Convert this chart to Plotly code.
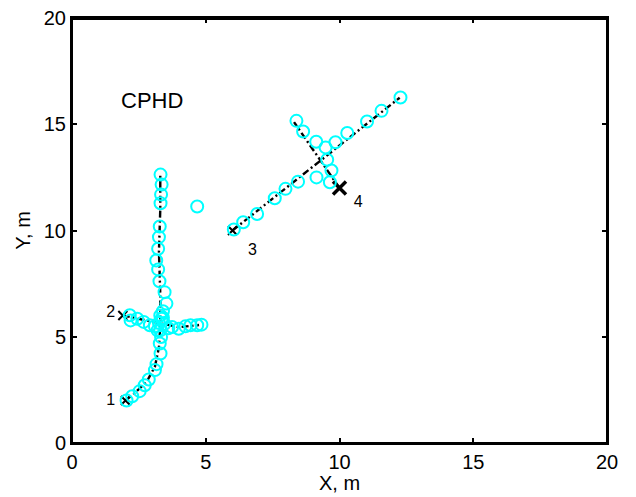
import plotly.graph_objects as go

# Estimated CPHD state estimates (cyan circles)
est_x = [8.39, 8.64, 9.13, 9.48, 9.85, 10.29, 11.03, 11.57, 12.28, 9.54, 9.70, 9.64, 9.14, 8.45, 7.98, 7.58, 6.92, 6.40, 6.05,
         3.31, 3.35, 3.33, 3.31, 3.28, 3.25, 3.22, 3.15, 3.22, 3.27, 3.46, 3.53, 3.40,
         4.68,
         2.04, 2.25, 2.53, 2.72, 2.87, 3.10, 3.16, 3.31, 3.28, 3.33, 3.30,
         2.16, 2.19, 2.44, 2.68, 2.91, 3.10, 3.25, 3.35, 3.45, 3.60, 3.74, 3.99, 4.24, 4.43, 4.68, 4.84, 3.20, 3.40, 3.30]
est_y = [15.16, 14.66, 14.18, 13.91, 14.15, 14.59, 15.13, 15.63, 16.26, 13.33, 12.82, 12.27, 12.50, 12.30, 11.96, 11.52, 10.78, 10.39, 10.05,
         12.63, 12.16, 11.69, 11.28, 10.19, 9.69, 9.14, 8.59, 8.17, 7.61, 7.10, 6.56, 6.20,
         11.13,
         2.00, 2.20, 2.44, 2.72, 2.99, 3.43, 3.71, 4.21, 4.68, 4.99, 5.30,
         6.01, 5.77, 5.85, 5.70, 5.54, 5.50, 5.65, 5.85, 5.60, 5.40, 5.46, 5.38, 5.49, 5.54, 5.54, 5.57, 5.30, 5.90, 6.00]

# True target tracks (black dashed)
track1_x = [2.0, 2.3, 2.8, 3.1, 3.25, 3.3, 3.3, 3.25, 3.3, 3.3]
track1_y = [2.0, 2.3, 2.9, 3.6, 4.5, 5.5, 7.0, 9.0, 11.0, 12.6]
track2_x = [1.9, 2.5, 3.3, 4.0, 4.75]
track2_y = [6.0, 5.85, 5.65, 5.45, 5.55]
track3_x = [6.0, 12.25]
track3_y = [10.0, 16.25]
track4_x = [10.0, 8.3]
track4_y = [12.0, 15.1]

start_x = [2.0, 1.9, 6.0]
start_y = [2.0, 6.0, 10.0]
label_text = ["1", "2", "3", "4"]
label_x = [1.45, 1.45, 6.75, 10.7]
label_y = [2.0, 6.1, 9.05, 11.3]

FONT = "Liberation Sans"
fig = go.Figure()
dash = "7px,3px,2px,3px"
for tx, ty in [(track1_x, track1_y), (track2_x, track2_y), (track3_x, track3_y), (track4_x, track4_y)]:
    fig.add_trace(go.Scatter(x=tx, y=ty, mode="lines",
                             line=dict(color="black", width=2.4, dash=dash), hoverinfo="skip"))
fig.add_trace(go.Scatter(x=start_x, y=start_y, mode="markers",
                         marker=dict(symbol="x-thin-open", size=9, color="black",
                                     line=dict(color="black", width=2))))
fig.add_trace(go.Scatter(x=[track4_x[0]], y=[track4_y[0]], mode="markers",
                         marker=dict(symbol="x-thin-open", size=13, color="black",
                                     line=dict(color="black", width=3.5))))
fig.add_trace(go.Scatter(x=est_x, y=est_y, mode="markers",
                         marker=dict(symbol="circle-open", size=12, color="#00FFFF",
                                     line=dict(color="#00FFFF", width=2))))
fig.add_trace(go.Scatter(x=label_x, y=label_y, mode="text", text=label_text,
                         textfont=dict(size=16, color="black", family=FONT)))

fig.add_annotation(x=1.75, y=16.1, text="CPHD", showarrow=False, xanchor="left",
                   font=dict(size=22, color="black", family=FONT))
fig.add_annotation(x=0.5, xref="paper", y=-0.095, yref="paper", yanchor="middle",
                   text="X, m", showarrow=False, font=dict(size=20, color="black", family=FONT))
fig.add_annotation(x=-0.093, xref="paper", y=0.5, yref="paper", xanchor="center",
                   text="Y, m", textangle=-90, showarrow=False,
                   font=dict(size=20, color="black", family=FONT))
fig.add_shape(type="rect", xref="paper", yref="paper", x0=0, x1=1, y0=0, y1=1,
              line=dict(color="black", width=2), layer="above")
fig.add_shape(type="line", xref="paper", yref="paper", x0=0, x1=1, y0=0.998, y1=0.998,
              line=dict(color="black", width=2.5), layer="above")

axis_common = dict(range=[0, 20], tickvals=[0, 5, 10, 15, 20], ticks="inside", ticklen=5,
                   tickwidth=1.5, tickcolor="black", showline=True, linecolor="black", linewidth=2,
                   mirror="ticks", showgrid=False, zeroline=False, automargin=False,
                   ticklabeloverflow="allow",
                   tickfont=dict(size=20, color="black", family=FONT))
fig.update_xaxes(**axis_common)
fig.update_yaxes(**axis_common)
fig.update_layout(width=628, height=489, margin=dict(l=64, r=29, t=10, b=54),
                  plot_bgcolor="white", paper_bgcolor="white", showlegend=False)
fig.write_html("out.html", config={"displayModeBar": False})
